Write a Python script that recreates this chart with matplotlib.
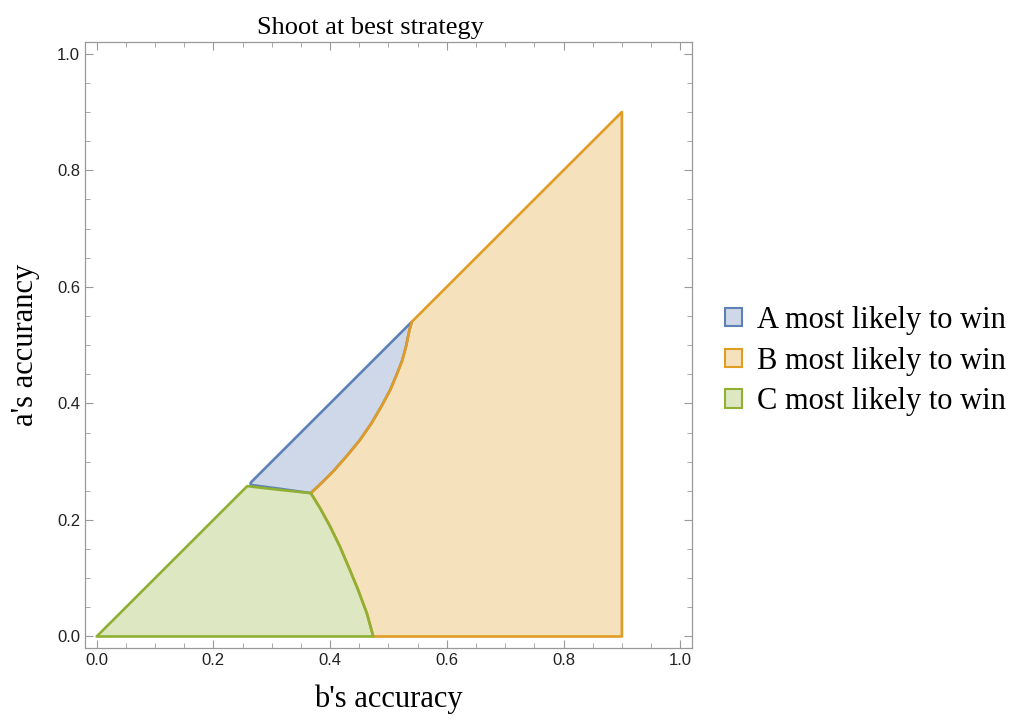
import numpy as np
import matplotlib.pyplot as plt
from matplotlib.patches import Polygon, Patch
from matplotlib.colors import to_rgba
from matplotlib.ticker import MultipleLocator

# region boundaries in (b, a) = (b's accuracy, a's accuracy)
green_top = [(0.258, 0.257), (0.310, 0.252), (0.367, 0.246)]
green_orange = [(0.367, 0.246), (0.383, 0.220), (0.400, 0.189), (0.417, 0.154),
                (0.434, 0.114), (0.448, 0.080), (0.463, 0.040), (0.474, 0.0)]
blue_orange = [(0.367, 0.246), (0.388, 0.266), (0.405, 0.283), (0.428, 0.309),
               (0.451, 0.337), (0.471, 0.366), (0.488, 0.395), (0.503, 0.423),
               (0.514, 0.449), (0.523, 0.472), (0.530, 0.497), (0.536, 0.526),
               (0.540, 0.540)]
blue_diag = [(0.264, 0.264), (0.532, 0.532)]
orange_diag = [(0.540, 0.540), (0.900, 0.900)]
orange_base = [(0.474, 0.0), (0.900, 0.0)]
green_diag = [(0.0, 0.0), (0.258, 0.258)]

labels = ["A most likely to win", "B most likely to win", "C most likely to win"]
colors = ["#5E81B5", "#E19C24", "#8FB032"]

blue_pts = blue_diag + blue_orange[::-1] + [(0.310, 0.254), (0.264, 0.260)]
orange_pts = orange_base + orange_diag[::-1][:1] + blue_orange[::-1] + green_orange[1:]
green_pts = green_diag + green_top[1:] + green_orange[1:]

fig = plt.figure(figsize=(10.15, 7.25), dpi=100)
ax = fig.add_axes([0.0837, 0.106, 0.598, 0.836])

for pts, c in zip([blue_pts, orange_pts, green_pts], colors):
    ax.add_patch(Polygon(pts, closed=True, facecolor=to_rgba(c, 0.3),
                         edgecolor=c, linewidth=1.9, joinstyle='round'))

ax.set_xlim(-0.02, 1.02)
ax.set_ylim(-0.02, 1.02)
ax.xaxis.set_major_locator(MultipleLocator(0.2))
ax.yaxis.set_major_locator(MultipleLocator(0.2))
ax.xaxis.set_minor_locator(MultipleLocator(0.05))
ax.yaxis.set_minor_locator(MultipleLocator(0.05))
ax.tick_params(which='both', direction='in', top=True, right=True,
               color='#999999', labelsize=12, labelcolor='#222222')
ax.tick_params(which='major', length=6, width=0.8)
ax.tick_params(which='minor', length=3.5, width=0.6)
for lbl in ax.get_xticklabels() + ax.get_yticklabels():
    lbl.set_family('Liberation Sans')
for s in ax.spines.values():
    s.set_color('#999999')
    s.set_linewidth(0.9)

serif = 'Liberation Serif'
ax.set_title("Shoot at best strategy", family=serif, fontsize=19, pad=6, x=0.47)
ax.set_xlabel("b's accuracy", family=serif, fontsize=22, labelpad=12)
ax.set_ylabel("a's accurancy", family=serif, fontsize=22, labelpad=12)

handles = [Patch(facecolor=to_rgba(c, 0.3), edgecolor=c, linewidth=1.5) for c in colors]
fig.legend(handles, labels, loc='center left', bbox_to_anchor=(0.687, 0.502),
           frameon=False, prop={'family': serif, 'size': 22},
           handlelength=0.55, handleheight=0.55, handletextpad=0.52, labelspacing=0.38)

fig.savefig('out.png', dpi=100)
